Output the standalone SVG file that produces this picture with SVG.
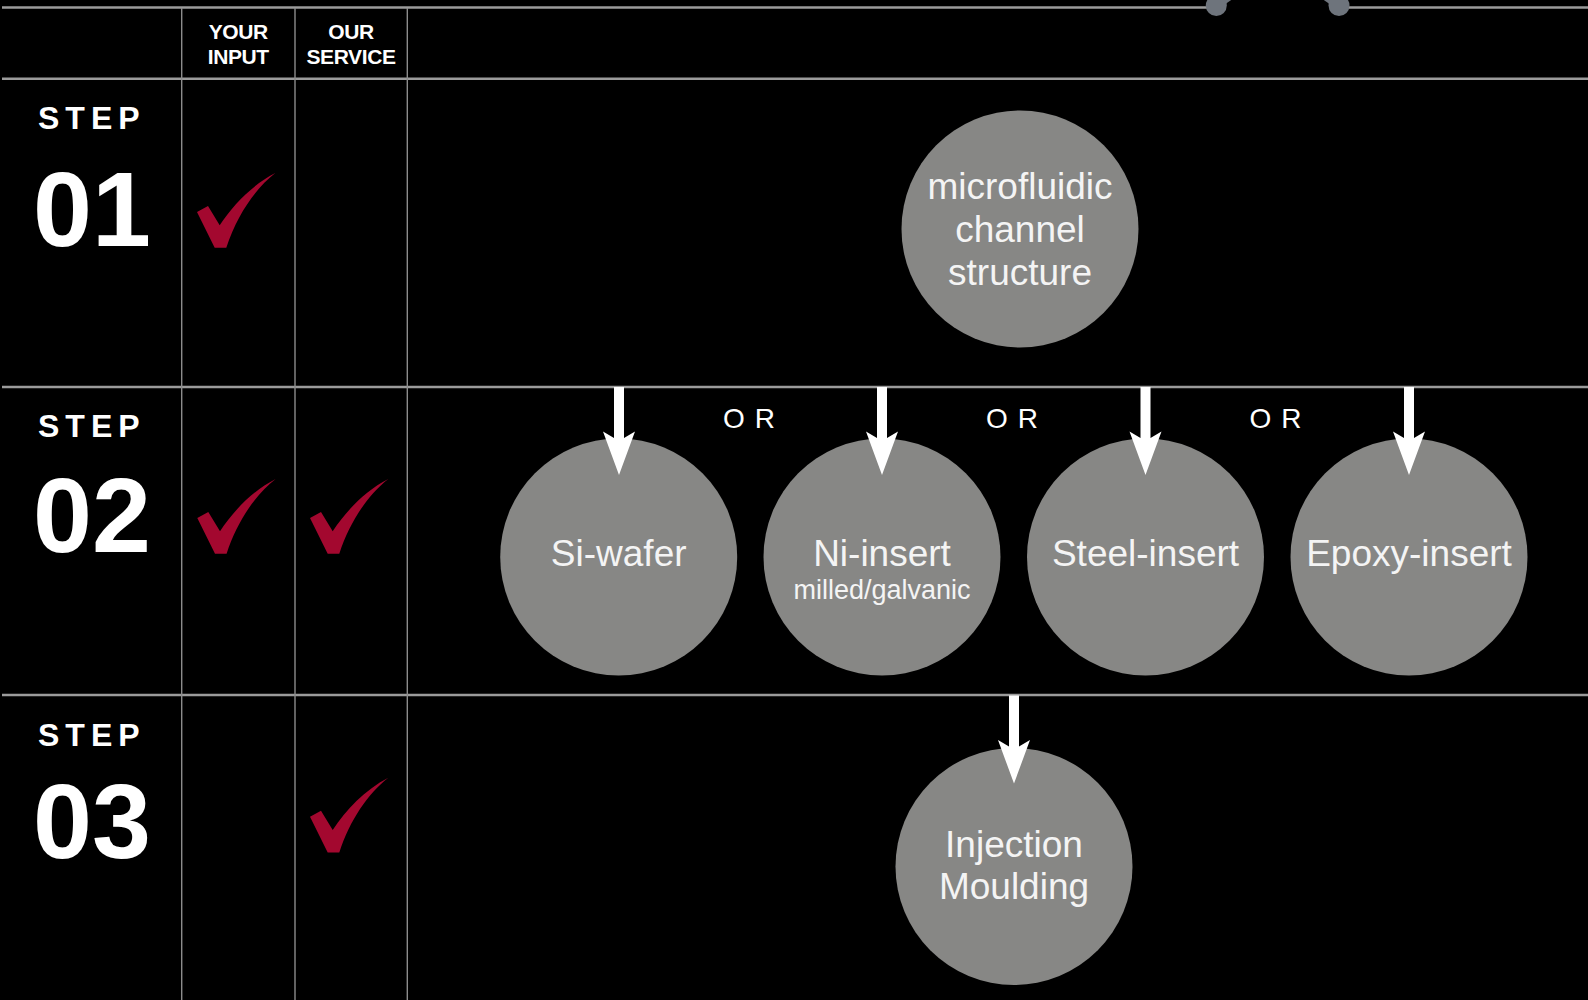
<svg xmlns="http://www.w3.org/2000/svg" width="1588" height="1000" viewBox="0 0 1588 1000">
<style>
.hl{stroke:#9b9b9b;stroke-width:2.5;fill:none}
.vl{stroke:#8c8c8c;stroke-width:1.4;fill:none}
.hd{font-family:"Liberation Sans",Arial,sans-serif;font-weight:bold;font-size:21px;fill:#ffffff;text-anchor:middle;letter-spacing:-0.4px}
.step{font-family:"Liberation Sans",Arial,sans-serif;font-weight:bold;font-size:32px;fill:#ffffff;letter-spacing:6px}
.num{font-family:"Liberation Sans",Arial,sans-serif;font-weight:bold;font-size:106px;fill:#ffffff}
.node circle{fill:#878785}
.lbl{font-family:"Liberation Sans",Arial,sans-serif;font-size:37px;fill:#f4f4f4;text-anchor:middle}
.sub{font-family:"Liberation Sans",Arial,sans-serif;font-size:27px;fill:#f4f4f4;text-anchor:middle}
.or{font-family:"Liberation Sans",Arial,sans-serif;font-size:28px;fill:#ffffff;letter-spacing:10px}
.arrow{fill:#ffffff}
.chk{fill:#a3082f}
.dot{fill:#6e747c}
</style>
<defs>
<path id="check" d="M0,39 L11,33 L22.7,52.3 C36,32 55,12 78.3,0 C58,16 40,42 29.3,74.7 L17.7,74.7 Z"/>
<path id="arr" d="M-5,0 L5,0 L5,51 L16,44.5 L0,88 L-16,44.5 L-5,51 Z"/>
</defs>
<rect x="0" y="0" width="1588" height="1000" fill="#000000"/>

<g id="grid">
<line class="hl" x1="2" y1="7.5" x2="1212" y2="7.5"/>
<line class="hl" x1="1343" y1="7.5" x2="1588" y2="7.5"/>
<line class="hl" x1="2" y1="78.7" x2="1588" y2="78.7"/>
<line class="hl" x1="2" y1="387" x2="1588" y2="387"/>
<line class="hl" x1="2" y1="695" x2="1588" y2="695"/>
<line class="vl" x1="181.7" y1="8" x2="181.7" y2="1000"/>
<line class="vl" x1="295" y1="8" x2="295" y2="1000"/>
<line class="vl" x1="407.3" y1="8" x2="407.3" y2="1000"/>
</g>

<g id="top-ornament">
<line x1="1216" y1="5" x2="1232" y2="-6" stroke="#6e747c" stroke-width="9"/>
<line x1="1339" y1="5" x2="1323" y2="-6" stroke="#6e747c" stroke-width="9"/>
<circle class="dot" cx="1216.3" cy="5.5" r="10.5"/>
<circle class="dot" cx="1339" cy="5.5" r="10.5"/>
</g>

<g id="header">
<text class="hd" x="238.3" y="38.5">YOUR</text>
<text class="hd" x="238.3" y="64">INPUT</text>
<text class="hd" x="351" y="38.5">OUR</text>
<text class="hd" x="351" y="64">SERVICE</text>
</g>

<g id="step-labels">
<text class="step" x="38" y="129">STEP</text>
<text class="num" x="33" y="246">01</text>
<text class="step" x="38" y="437">STEP</text>
<text class="num" x="33" y="552">02</text>
<text class="step" x="38" y="746">STEP</text>
<text class="num" x="33" y="858">03</text>
</g>

<g id="checks">
<use class="chk" href="#check" x="197" y="173"/>
<use class="chk" href="#check" x="197.3" y="479"/>
<use class="chk" href="#check" x="310" y="479"/>
<use class="chk" href="#check" x="310" y="777.7"/>
</g>

<g id="connectors">
<text class="or" x="723" y="428.3">OR</text>
<text class="or" x="986" y="428.3">OR</text>
<text class="or" x="1249.4" y="428.3">OR</text>
</g>

<g id="node-microfluidic" class="node">
<circle cx="1020" cy="229" r="118.5"/>
<text class="lbl" x="1020" y="199.3">microfluidic</text>
<text class="lbl" x="1020" y="242">channel</text>
<text class="lbl" x="1020" y="284.5">structure</text>
</g>
<g id="node-si-wafer" class="node">
<circle cx="618.7" cy="557" r="118.5"/>
<text class="lbl" x="618.7" y="566">Si-wafer</text>
</g>
<g id="node-ni-insert" class="node">
<circle cx="882" cy="557" r="118.5"/>
<text class="lbl" x="882" y="566">Ni-insert</text>
<text class="sub" x="882" y="599">milled/galvanic</text>
</g>
<g id="node-steel-insert" class="node">
<circle cx="1145.5" cy="557" r="118.5"/>
<text class="lbl" x="1145.5" y="566">Steel-insert</text>
</g>
<g id="node-epoxy-insert" class="node">
<circle cx="1409" cy="557" r="118.5"/>
<text class="lbl" x="1409" y="566">Epoxy-insert</text>
</g>
<g id="node-injection" class="node">
<circle cx="1014" cy="866.5" r="118.5"/>
<text class="lbl" x="1014" y="857">Injection</text>
<text class="lbl" x="1014" y="899">Moulding</text>
</g>

<g id="connectors-front">
<use class="arrow" href="#arr" x="619" y="387"/>
<use class="arrow" href="#arr" x="882" y="387"/>
<use class="arrow" href="#arr" x="1145.5" y="387"/>
<use class="arrow" href="#arr" x="1409" y="387"/>
<use class="arrow" href="#arr" x="1014" y="695.5"/>
</g>
</svg>
